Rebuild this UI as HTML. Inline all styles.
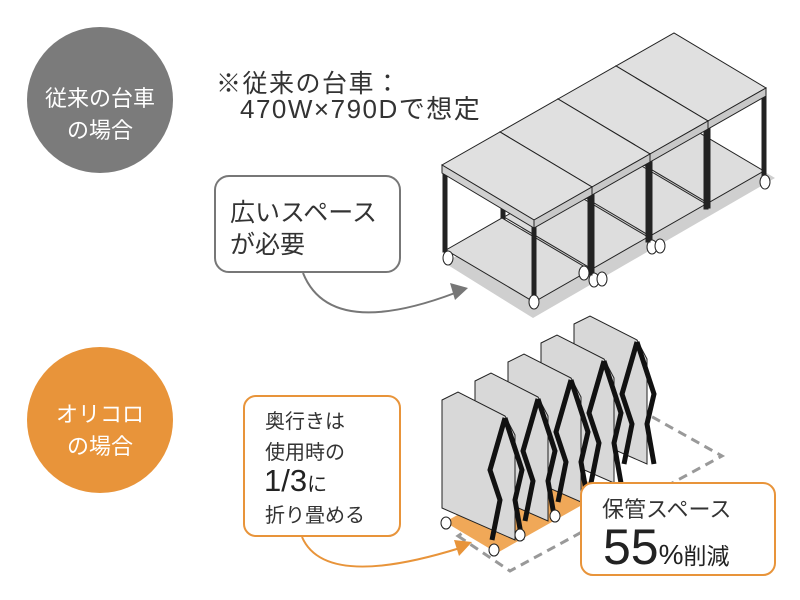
<!DOCTYPE html>
<html><head><meta charset="utf-8"><style>
html,body{margin:0;padding:0;background:#fff;}
svg{display:block;font-family:"Liberation Sans","Noto Sans CJK JP",sans-serif;}
</style></head><body>
<svg width="800" height="600" viewBox="0 0 800 600" xmlns="http://www.w3.org/2000/svg">
<circle cx="100" cy="100" r="73" fill="#7b7b7b"/>
<text x="100" y="106" fill="#fff" font-size="22" text-anchor="middle">従来の台車</text>
<text x="100" y="138" fill="#fff" font-size="22" text-anchor="middle">の場合</text>
<circle cx="100" cy="420" r="73" fill="#e8943a"/>
<text x="100" y="422" fill="#fff" font-size="22" text-anchor="middle">オリコロ</text>
<text x="100" y="454" fill="#fff" font-size="22" text-anchor="middle">の場合</text>

<text x="216" y="92" fill="#333" font-size="25" letter-spacing="1.5">※従来の台車：</text>
<text x="240" y="118" fill="#333" font-size="26" letter-spacing="1.5">470W×790Dで想定</text>

<!-- bubble 1 -->
<rect x="215" y="176" width="185" height="96" rx="14" fill="#fff" stroke="#777" stroke-width="2"/>
<text x="230" y="221" fill="#333" font-size="25">広いスペース</text>
<text x="230" y="253" fill="#333" font-size="25">が必要</text>
<path d="M303 273 Q330 340 455 293" fill="none" stroke="#777" stroke-width="2"/>
<polygon points="468,288 450,283 455,300" fill="#777"/>

<!-- shadow -->
<polygon points="443,262 533,318 775,178 720,145" fill="#cfcfcf"/>
<!-- tables -->
<g stroke="#222" stroke-width="1">
<g transform="translate(174,-99)">
 <polygon points="446,250 534,302 590,270 502,218" fill="#ddd"/>
 <rect x="443" y="172" width="4" height="80" fill="#222"/><rect x="532" y="227" width="4" height="80" fill="#222"/><rect x="588" y="195" width="4" height="80" fill="#222"/>
 <polygon points="442,165 534,220 592,187 500,132" fill="#e0e0e0"/>
 <polygon points="442,165 534,220 534,228 442,173" fill="#d0d0d0"/><polygon points="534,220 592,187 592,195 534,228" fill="#c8c8c8"/>
 <ellipse cx="591" cy="281" rx="5" ry="7" fill="#fff"/>
</g>
<g transform="translate(116,-66)">
 <polygon points="446,250 534,302 590,270 502,218" fill="#ddd"/>
 <rect x="443" y="172" width="4" height="80" fill="#222"/><rect x="532" y="227" width="4" height="80" fill="#222"/><rect x="588" y="195" width="4" height="80" fill="#222"/>
 <polygon points="442,165 534,220 592,187 500,132" fill="#e0e0e0"/>
 <polygon points="442,165 534,220 534,228 442,173" fill="#d0d0d0"/><polygon points="534,220 592,187 592,195 534,228" fill="#c8c8c8"/>
 <ellipse cx="536" cy="313" rx="5" ry="7" fill="#fff"/><ellipse cx="544" cy="312" rx="5" ry="7" fill="#fff"/>
</g>
<g transform="translate(58,-33)">
 <polygon points="446,250 534,302 590,270 502,218" fill="#ddd"/>
 <rect x="443" y="172" width="4" height="80" fill="#222"/><rect x="532" y="227" width="4" height="80" fill="#222"/><rect x="588" y="195" width="4" height="80" fill="#222"/>
 <polygon points="442,165 534,220 592,187 500,132" fill="#e0e0e0"/>
 <polygon points="442,165 534,220 534,228 442,173" fill="#d0d0d0"/><polygon points="534,220 592,187 592,195 534,228" fill="#c8c8c8"/>
 <ellipse cx="536" cy="313" rx="5" ry="7" fill="#fff"/><ellipse cx="544" cy="312" rx="5" ry="7" fill="#fff"/>
</g>
<g>
 <polygon points="446,250 534,302 590,270 502,218" fill="#ddd"/>
 <rect x="443" y="172" width="4" height="80" fill="#222"/><rect x="532" y="227" width="4" height="80" fill="#222"/><rect x="588" y="195" width="4" height="80" fill="#222"/>
 <polygon points="442,165 534,220 592,187 500,132" fill="#e0e0e0"/>
 <polygon points="442,165 534,220 534,228 442,173" fill="#d0d0d0"/><polygon points="534,220 592,187 592,195 534,228" fill="#c8c8c8"/>
 <ellipse cx="448" cy="258" rx="5" ry="7" fill="#fff"/><ellipse cx="534" cy="302" rx="5" ry="7" fill="#fff"/><ellipse cx="584" cy="273" rx="5" ry="7" fill="#fff"/>
</g>
</g>

<!-- oricolo -->
<polygon points="458,536 510,571 722,456 640,410" fill="none" stroke="#999" stroke-width="3" stroke-dasharray="9,6"/>
<polygon points="445,522 497,553 605,492 553,461" fill="#f0a858"/>
<g stroke="#222" stroke-width="1">
 <g transform="translate(132,-76)"><polygon points="442,400 458,392 505,416 515,435 515,540 442,508" fill="#d8d8d8"/><path d="M505 418 L490 470 L500 500 L492 540 M505 418 L522 470 L515 500 L522 540" fill="none" stroke="#111" stroke-width="5"/></g>
 <g transform="translate(99,-57)"><polygon points="442,400 458,392 505,416 515,435 515,540 442,508" fill="#d8d8d8"/><path d="M505 418 L490 470 L500 500 L492 540 M505 418 L522 470 L515 500 L522 540" fill="none" stroke="#111" stroke-width="5"/></g>
 <g transform="translate(66,-38)"><polygon points="442,400 458,392 505,416 515,435 515,540 442,508" fill="#d8d8d8"/><path d="M505 418 L490 470 L500 500 L492 540 M505 418 L522 470 L515 500 L522 540" fill="none" stroke="#111" stroke-width="5"/></g>
 <g transform="translate(33,-19)"><polygon points="442,400 458,392 505,416 515,435 515,540 442,508" fill="#d8d8d8"/><path d="M505 418 L490 470 L500 500 L492 540 M505 418 L522 470 L515 500 L522 540" fill="none" stroke="#111" stroke-width="5"/></g>
 <g><polygon points="442,400 458,392 505,416 515,435 515,540 442,508" fill="#d8d8d8"/><path d="M505 418 L490 470 L500 500 L492 540 M505 418 L522 470 L515 500 L522 540" fill="none" stroke="#111" stroke-width="5"/>
 <ellipse cx="446" cy="523" rx="5" ry="6" fill="#fff"/><ellipse cx="494" cy="550" rx="5" ry="6" fill="#fff"/></g>
 <ellipse cx="520" cy="535" rx="5" ry="6" fill="#fff"/><ellipse cx="555" cy="516" rx="5" ry="6" fill="#fff"/>
</g>

<!-- bubble 2 -->
<rect x="244" y="396" width="156" height="140" rx="12" fill="#fff" stroke="#e8943a" stroke-width="2"/>
<text x="265" y="428" fill="#333" font-size="20">奥行きは</text>
<text x="265" y="459" fill="#333" font-size="20">使用時の</text>
<text x="264" y="491" fill="#222" font-size="31">1/3<tspan font-size="20">に</tspan></text>
<text x="265" y="522" fill="#333" font-size="20">折り畳める</text>
<path d="M302 537 Q325 590 460 548" fill="none" stroke="#e8943a" stroke-width="2"/>
<polygon points="472,542 454,540 459,556" fill="#e8943a"/>

<!-- bubble 3 -->
<rect x="581" y="483" width="194" height="92" rx="12" fill="#fff" stroke="#e8943a" stroke-width="2"/>
<text x="602" y="517" fill="#333" font-size="22">保管スペース</text>
<text x="603" y="564" fill="#222" font-size="50">55<tspan font-size="28">%</tspan><tspan font-size="23">削減</tspan></text>
</svg>
</body></html>
